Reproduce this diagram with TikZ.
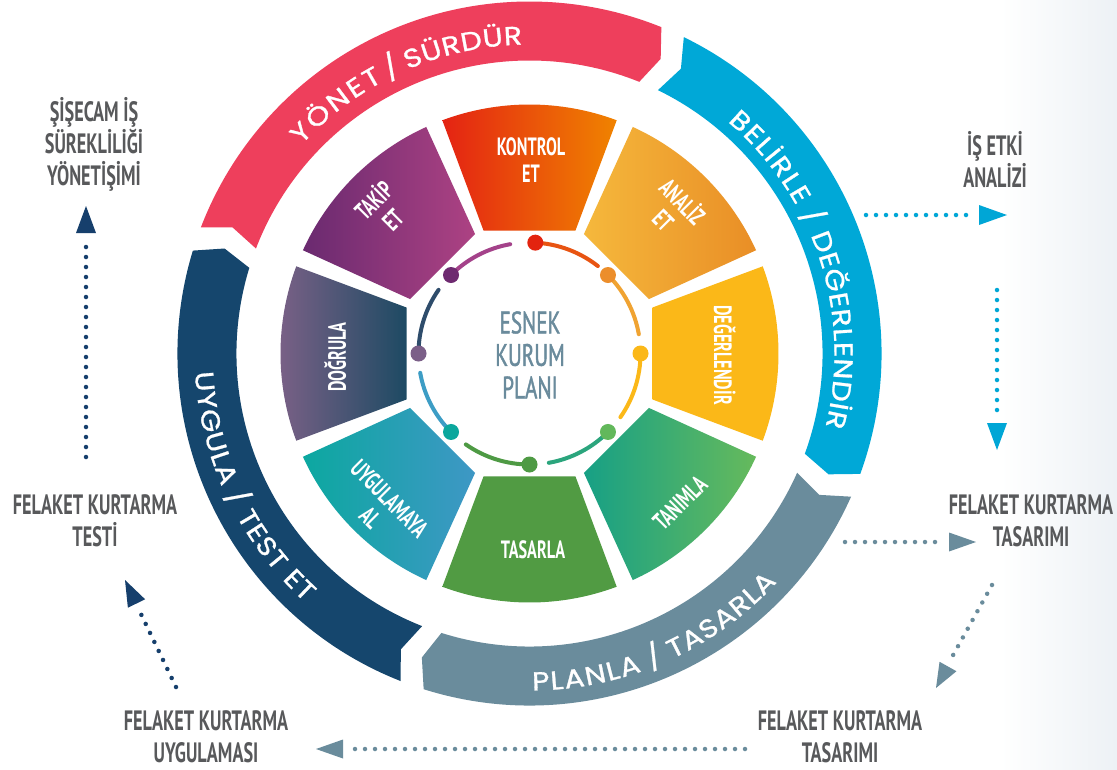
\documentclass[tikz,border=0pt]{standalone}
\usepackage{fontspec}
\setmainfont{PT Sans}
\newfontfamily\condB[FakeStretch=0.65]{PT Sans}
\newfontfamily\condM[FakeStretch=0.68,FakeBold=1.3]{PT Sans}
\newfontfamily\bandfont[FakeBold=1.1,FakeStretch=1.15]{Poppins}
\usetikzlibrary{decorations.text,calc}
\definecolor{bgR}{HTML}{EDF1F5}
\definecolor{bandRed}{HTML}{EE3F5C}
\definecolor{bandBlue}{HTML}{00A8D7}
\definecolor{bandGray}{HTML}{6A8C9C}
\definecolor{bandNavy}{HTML}{15466D}
\definecolor{lblGray}{HTML}{58595B}
\definecolor{centerC}{HTML}{6A8B9C}
\definecolor{arNavy}{HTML}{163F6C}
\definecolor{arCyan}{HTML}{00A6D6}
\definecolor{arGray}{HTML}{6A8C9C}
\definecolor{konL}{HTML}{E42313}\definecolor{konR}{HTML}{F08300}
\definecolor{anaL}{HTML}{F5B83C}\definecolor{anaR}{HTML}{E98E26}
\definecolor{degL}{HTML}{FBB818}\definecolor{degR}{HTML}{FBB818}
\definecolor{tanL}{HTML}{17A085}\definecolor{tanR}{HTML}{66BA5C}
\definecolor{tasL}{HTML}{519B43}\definecolor{tasR}{HTML}{519B43}
\definecolor{uygL}{HTML}{0CA8A0}\definecolor{uygR}{HTML}{3E97C5}
\definecolor{dogL}{HTML}{7C6187}\definecolor{dogR}{HTML}{1D4A63}
\definecolor{takL}{HTML}{6A2A70}\definecolor{takR}{HTML}{AD4283}
\definecolor{dRed}{HTML}{E3240F}\definecolor{aRed}{HTML}{E85412}
\definecolor{dOra}{HTML}{EC8E2B}\definecolor{aOra}{HTML}{F0A332}
\definecolor{dYel}{HTML}{FBB818}\definecolor{aYel}{HTML}{FBB818}
\definecolor{dLgr}{HTML}{62B85B}\definecolor{aLgr}{HTML}{2BA57D}
\definecolor{dGrn}{HTML}{4E9A44}\definecolor{aGrn}{HTML}{4E9A44}
\definecolor{dTea}{HTML}{0BA79D}\definecolor{aTea}{HTML}{3D9DC5}
\definecolor{dMau}{HTML}{7B5F88}\definecolor{aMau}{HTML}{2E4C6B}
\definecolor{dPur}{HTML}{6E2A70}\definecolor{aPur}{HTML}{A4428A}
\tikzset{
  seglbl/.style={text=white, font=\condB\bfseries\fontsize{25}{27}\selectfont, align=center, inner sep=0pt},
  outlbl/.style={text=lblGray, font=\condB\bfseries\fontsize{28}{32}\selectfont, align=center, inner sep=0pt},
  dotln/.style={line width=4.5pt, line cap=round, dash pattern=on 0pt off 10pt},
  bandfit/.style={decorate, decoration={text along path, text color=white, text align={fit to path}}},
  bandctr/.style={decorate, decoration={text along path, text color=white, text align=center}}
}
% word on an arc: start angle, end angle, radius, text
\newcommand\bandword[4]{\path[bandfit, decoration={text={|\bandfont\fontsize{26}{26}\selectfont|#4}}]
   (#1:#3) arc[start angle=#1, end angle=#2, radius=#3];}
\newcommand\bandslash[3]{\path[bandctr, decoration={text={|\bandfont\fontsize{26}{26}\selectfont|/}}]
   (#1:#3) arc[start angle=#1, end angle=#2, radius=#3];}
\begin{document}
\begin{tikzpicture}[x=1pt,y=1pt]
\fill[white] (0,0) rectangle (1117,-769);
\shade[left color=white, right color=bgR] (1000,0) rectangle (1117,-769);
\useasboundingbox (0,0) rectangle (1117,-769);

\begin{scope}[shift={(529.5,-353.5)}]
  % outer bands
  \fill[bandRed] (159:352) arc[start angle=159,end angle=68,radius=352] -- (66:322.5) -- (68:293)
     arc[start angle=68,end angle=159,radius=293] -- (157:322.5) -- cycle;
  \fill[bandBlue] (64:352) arc[start angle=64,end angle=-20,radius=352] -- (-22:322.5) -- (-20:293)
     arc[start angle=-20,end angle=64,radius=293] -- (62:322.5) -- cycle;
  \fill[bandGray] (-24:352) arc[start angle=-24,end angle=-107.5,radius=352] -- (-109.5:322.5) -- (-107.5:293)
     arc[start angle=-107.5,end angle=-24,radius=293] -- (-26:322.5) -- cycle;
  \fill[bandNavy] (-111.5:352) arc[start angle=-111.5,end angle=-197,radius=352] -- (-199:322.5) -- (-197:293)
     arc[start angle=-197,end angle=-111.5,radius=293] -- (-113.5:322.5) -- cycle;
  % band texts (clockwise, tops outward)
  \bandword{137.6}{118.3}{309}{YÖNET}
  \bandslash{117.8}{113.8}{309}
  \bandword{113.2}{91.3}{309}{SÜRDÜR}
  \bandword{49.5}{29.0}{305}{BELİRLE}
  \bandslash{27.9}{23.9}{305}
  \bandword{22.8}{-13.9}{305}{DEĞERLENDİR}
  % band texts (counter-clockwise, tops inward)
  \bandword{-89.5}{-70.54}{337}{PLANLA}
  \bandslash{-69.7}{-65.7}{337}
  \bandword{-64.93}{-42.73}{337}{TASARLA}
  \bandword{183.2}{203.4}{335}{UYGULA}
  \bandslash{204.2}{208.2}{335}
  \bandword{209.04}{220.69}{335}{TEST}
  \bandword{222.4}{228.0}{335}{ET}
  % segments
  \foreach \a/\cl/\cr in {90/konL/konR, 45/anaL/anaR, 0/degL/degR, -45/tanL/tanR,
                          -90/tasL/tasR, -135/uygL/uygR, 180/dogL/dogR, 135/takL/takR}{
    \shade[left color=\cl, right color=\cr] ({\a-20.5}:131.3) -- ({\a-20.5}:249)
       arc[start angle={\a-20.5}, end angle={\a+20.5}, radius=249] -- ({\a+20.5}:131.3) -- cycle;
  }
  % inner ring
  \foreach \a/\dc/\ac in {87/dRed/aRed, 45/dOra/aOra, 0/dYel/aYel, -45/dLgr/aLgr,
                          -90/dGrn/aGrn, -135/dTea/aTea, 180/dMau/aMau, 135/dPur/aPur}{
    \draw[line width=4pt, line cap=round, \ac] (\a:111) arc[start angle=\a, end angle={\a-35}, radius=111];
    \fill[\dc] (\a:111) circle[radius=8];
  }
\end{scope}

% segment labels
\node[seglbl] (kontrol) at (531,-160) {KONTROL\\ET};
\node[seglbl, rotate=-45] (analiz) at (674,-210) {ANALİZ\\ET};
\node[seglbl, rotate=-90] (deger) at (725,-355) {DEĞERLENDİR};
\node[seglbl, rotate=45] (tanimla) at (680,-503) {TANIMLA};
\node[seglbl] (tasarla) at (533,-550) {TASARLA};
\node[seglbl, rotate=-45] (uygulamaya) at (380,-508) {UYGULAMAYA\\AL};
\node[seglbl, rotate=90] (dogrula) at (335,-357) {DOĞRULA};
\node[seglbl, rotate=45] (takip) at (382,-209) {TAKİP\\ET};

% centre
\node[text=centerC, font=\condM\fontsize{31}{32.5}\selectfont, align=center, inner sep=0pt] (esnek) at (530,-355) {ESNEK\\KURUM\\PLANI};

% outer labels
\node[outlbl] (sisecam) at (94,-144) {ŞİŞECAM İŞ\\SÜREKLİLİĞİ\\YÖNETİŞİMİ};
\node[outlbl] (etki) at (995,-160) {İŞ ETKİ\\ANALİZİ};
\node[outlbl] (tasarimR) at (1031,-521) {FELAKET KURTARMA\\TASARIMI};
\node[outlbl] (tasarimB) at (840,-737) {FELAKET KURTARMA\\TASARIMI};
\node[outlbl] (uygulamasi) at (206,-737) {FELAKET KURTARMA\\UYGULAMASI};
\node[outlbl] (testi) at (95,-521) {FELAKET KURTARMA\\TESTİ};

% arrows
\coordinate (a1s) at (86,-457); \coordinate (a1e) at (86,-237);
\coordinate (a1b) at (86,-233); \coordinate (a1t) at (86,-206);
\draw[dotln, arNavy] (a1s) -- (a1e);
\fill[arNavy] (a1t) -- ($(a1b)!10pt!90:(a1t)$) -- ($(a1b)!10pt!-90:(a1t)$) -- cycle;
\coordinate (a2s) at (866,-215); \coordinate (a2e) at (973,-215);
\coordinate (a2b) at (979,-215); \coordinate (a2t) at (1007,-215);
\draw[dotln, arCyan] (a2s) -- (a2e);
\fill[arCyan] (a2t) -- ($(a2b)!10pt!90:(a2t)$) -- ($(a2b)!10pt!-90:(a2t)$) -- cycle;
\coordinate (a3s) at (997,-290); \coordinate (a3e) at (997,-415);
\coordinate (a3b) at (997,-423); \coordinate (a3t) at (997,-450);
\draw[dotln, arCyan] (a3s) -- (a3e);
\fill[arCyan] (a3t) -- ($(a3b)!10pt!90:(a3t)$) -- ($(a3b)!10pt!-90:(a3t)$) -- cycle;
\coordinate (a4s) at (845,-542); \coordinate (a4e) at (942,-542);
\coordinate (a4b) at (949,-542); \coordinate (a4t) at (976,-542);
\draw[dotln, arGray] (a4s) -- (a4e);
\fill[arGray] (a4t) -- ($(a4b)!9.5pt!90:(a4t)$) -- ($(a4b)!9.5pt!-90:(a4t)$) -- cycle;
\coordinate (a5s) at (992,-585); \coordinate (a5e) at (952,-657);
\coordinate (a5b) at (948,-666.5); \coordinate (a5t) at (936,-688);
\draw[dotln, arGray] (a5s) -- (a5e);
\fill[arGray] (a5t) -- ($(a5b)!9.7pt!90:(a5t)$) -- ($(a5b)!9.7pt!-90:(a5t)$) -- cycle;
\coordinate (a6s) at (745,-749); \coordinate (a6e) at (353,-749);
\coordinate (a6b) at (343,-749); \coordinate (a6t) at (316,-749);
\draw[dotln, arGray] (a6s) -- (a6e);
\fill[arGray] (a6t) -- ($(a6b)!9.5pt!90:(a6t)$) -- ($(a6b)!9.5pt!-90:(a6t)$) -- cycle;
\coordinate (a7s) at (176,-687); \coordinate (a7e) at (140,-612);
\coordinate (a7b) at (136.5,-603.5); \coordinate (a7t) at (125,-580);
\draw[dotln, arNavy] (a7s) -- (a7e);
\fill[arNavy] (a7t) -- ($(a7b)!9.6pt!90:(a7t)$) -- ($(a7b)!9.6pt!-90:(a7t)$) -- cycle;
\end{tikzpicture}
\end{document}
